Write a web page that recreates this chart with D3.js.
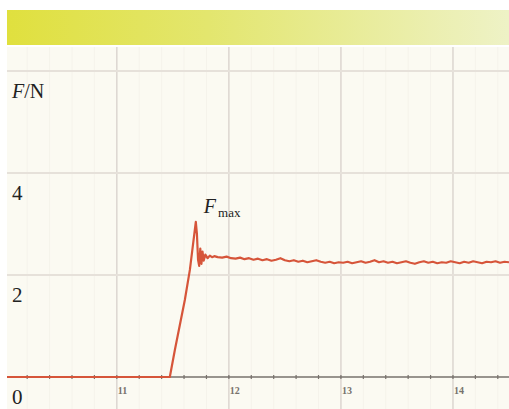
<!DOCTYPE html>
<html>
<head>
<meta charset="utf-8">
<script src="https://cdn.jsdelivr.net/npm/d3@7"></script>
<style>
  html, body { margin: 0; padding: 0; background: #ffffff; }
  svg { display: block; }
</style>
</head>
<body>
<svg id="chart" width="509" height="409"></svg>
<script>
// ---- data ----
const xTickValues = [11, 12, 13, 14];
const xTickLabels = ["11", "12", "13", "14"];
const yTickValues = [0, 2, 4];
const yTickLabels = ["0", "2", "4"];
const yAxisTitle = "F/N";
const peakLabel = "F";
const peakSub = "max";

const timeS = [10.02, 11.473, 11.518, 11.607, 11.652, 11.705, 11.715, 11.725, 11.735, 11.745, 11.755, 11.765, 11.775, 11.79, 11.81, 11.83, 11.85, 11.87,
  11.90, 11.94, 11.98, 12.02, 12.06, 12.10, 12.14, 12.18, 12.22, 12.26, 12.30, 12.34, 12.38, 12.42, 12.46, 12.50, 12.54, 12.58, 12.62, 12.66,
  12.70, 12.74, 12.78, 12.82, 12.86, 12.90, 12.94, 12.98, 13.02, 13.06, 13.10, 13.14, 13.18, 13.22, 13.26, 13.30, 13.34, 13.38, 13.42, 13.46,
  13.50, 13.54, 13.58, 13.62, 13.66, 13.70, 13.74, 13.78, 13.82, 13.86, 13.90, 13.94, 13.98, 14.02, 14.06, 14.10, 14.14, 14.18, 14.22, 14.26,
  14.30, 14.34, 14.38, 14.42, 14.46, 14.50];
const forceN = [0, 0, 0.53, 1.51, 2.10, 3.04, 2.80, 2.30, 2.18, 2.52, 2.22, 2.46, 2.28, 2.40, 2.33, 2.38, 2.35, 2.37,
  2.35, 2.34, 2.36, 2.33, 2.32, 2.34, 2.31, 2.33, 2.30, 2.32,
  2.29, 2.31, 2.28, 2.30, 2.33, 2.29, 2.27, 2.29, 2.26, 2.28,
  2.25, 2.27, 2.29, 2.26, 2.24, 2.26, 2.23, 2.25, 2.24, 2.26,
  2.23, 2.25, 2.27, 2.24, 2.26, 2.29, 2.25, 2.27, 2.24, 2.26,
  2.23, 2.25, 2.27, 2.24, 2.22, 2.25, 2.27, 2.24, 2.26, 2.23,
  2.25, 2.24, 2.27, 2.25, 2.23, 2.26, 2.24, 2.27, 2.25, 2.23,
  2.26, 2.25, 2.27, 2.24, 2.26, 2.25];

// ---- layout ----
const W = 509, H = 409;
const plotLeft = 7, plotRight = 509, plotTop = 45, plotBottom = 409;

const svg = d3.select("#chart");
const defs = svg.append("defs");

const x = d3.scaleLinear().domain([10.02, 14.5]).range([plotLeft, plotRight]);
const y = d3.scaleLinear().domain([0, 6]).range([377, 71]);

// banner gradient
const grad = defs.append("linearGradient").attr("id", "banner").attr("x1", "0%").attr("x2", "100%");
grad.append("stop").attr("offset", "0%").attr("stop-color", "#e0e03e");
grad.append("stop").attr("offset", "40%").attr("stop-color", "#e3e66e");
grad.append("stop").attr("offset", "100%").attr("stop-color", "#eef2c6");

svg.append("rect").attr("x", plotLeft).attr("y", 10).attr("width", W - plotLeft).attr("height", 35)
  .attr("fill", "url(#banner)");

// plot background
svg.append("rect").attr("x", plotLeft).attr("y", plotTop + 2).attr("width", plotRight - plotLeft)
  .attr("height", plotBottom - plotTop - 2).attr("fill", "#fbfaf2");

const g = svg.append("g");

// very faint minor grid
g.selectAll(".minorx").data(x.ticks(20).filter(d => !Number.isInteger(d)))
  .enter().append("line")
  .attr("x1", d => x(d)).attr("x2", d => x(d)).attr("y1", plotTop + 2).attr("y2", plotBottom)
  .attr("stroke", "#f5f3eb").attr("stroke-width", 1);

// major grid
g.selectAll(".gx").data(xTickValues).enter().append("line")
  .attr("x1", d => x(d)).attr("x2", d => x(d)).attr("y1", plotTop + 2).attr("y2", plotBottom)
  .attr("stroke", "#dcd6d0").attr("stroke-width", 1.5);
g.selectAll(".gy").data([2, 4, 6]).enter().append("line")
  .attr("x1", plotLeft).attr("x2", plotRight).attr("y1", d => y(d)).attr("y2", d => y(d))
  .attr("stroke", "#e6e1da").attr("stroke-width", 2);

// x axis with minor ticks
const xAxisG = svg.append("g").attr("transform", `translate(0,${y(0)})`);
xAxisG.append("line").attr("x1", plotLeft).attr("x2", plotRight).attr("y1", 0).attr("y2", 0)
  .attr("stroke", "#77726c").attr("stroke-width", 1.6);
const minorTicks = d3.range(51, 146, 1).map(d => d / 5).filter(d => d > 10.05 && d < 14.5);
xAxisG.selectAll(".mt").data(minorTicks).enter().append("line")
  .attr("x1", d => x(d)).attr("x2", d => x(d)).attr("y1", -2).attr("y2", 2)
  .attr("stroke", "#77726c").attr("stroke-width", 1.2);
xAxisG.selectAll(".tl").data(xTickValues).enter().append("text")
  .attr("x", d => x(d) + 1).attr("y", 17)
  .attr("font-family", "Liberation Serif, serif").attr("font-size", 10).attr("font-weight", "bold")
  .attr("fill", "#77716b")
  .text((d, i) => xTickLabels[i]);

// y labels (below their grid lines)
svg.selectAll(".yl").data(yTickValues).enter().append("text")
  .attr("x", 12).attr("y", d => y(d) + 27)
  .attr("font-family", "Liberation Serif, serif").attr("font-size", 21)
  .attr("fill", "#222")
  .text((d, i) => yTickLabels[i]);

const t1 = svg.append("text").attr("x", 12).attr("y", 98)
  .attr("font-family", "Liberation Serif, serif").attr("font-size", 20).attr("fill", "#222");
t1.append("tspan").attr("font-style", "italic").text(yAxisTitle.split("/")[0]);
t1.append("tspan").text("/" + yAxisTitle.split("/")[1]);

// line
const line = d3.line().x((d, i) => x(timeS[i])).y((d, i) => y(forceN[i]));
svg.append("path").datum(forceN)
  .attr("d", line)
  .attr("fill", "none").attr("stroke", "#d6553a").attr("stroke-width", 2.2)
  .attr("stroke-linejoin", "round");

// peak label
const pk = forceN.indexOf(d3.max(forceN));
const lab = svg.append("text").attr("x", x(timeS[pk]) + 8).attr("y", y(forceN[pk]) - 9)
  .attr("font-family", "Liberation Serif, serif").attr("fill", "#222");
lab.append("tspan").attr("font-style", "italic").attr("font-size", 20).text(peakLabel);
lab.append("tspan").attr("font-size", 13).attr("dx", 2).attr("dy", 4).text(peakSub);
</script>
</body>
</html>
